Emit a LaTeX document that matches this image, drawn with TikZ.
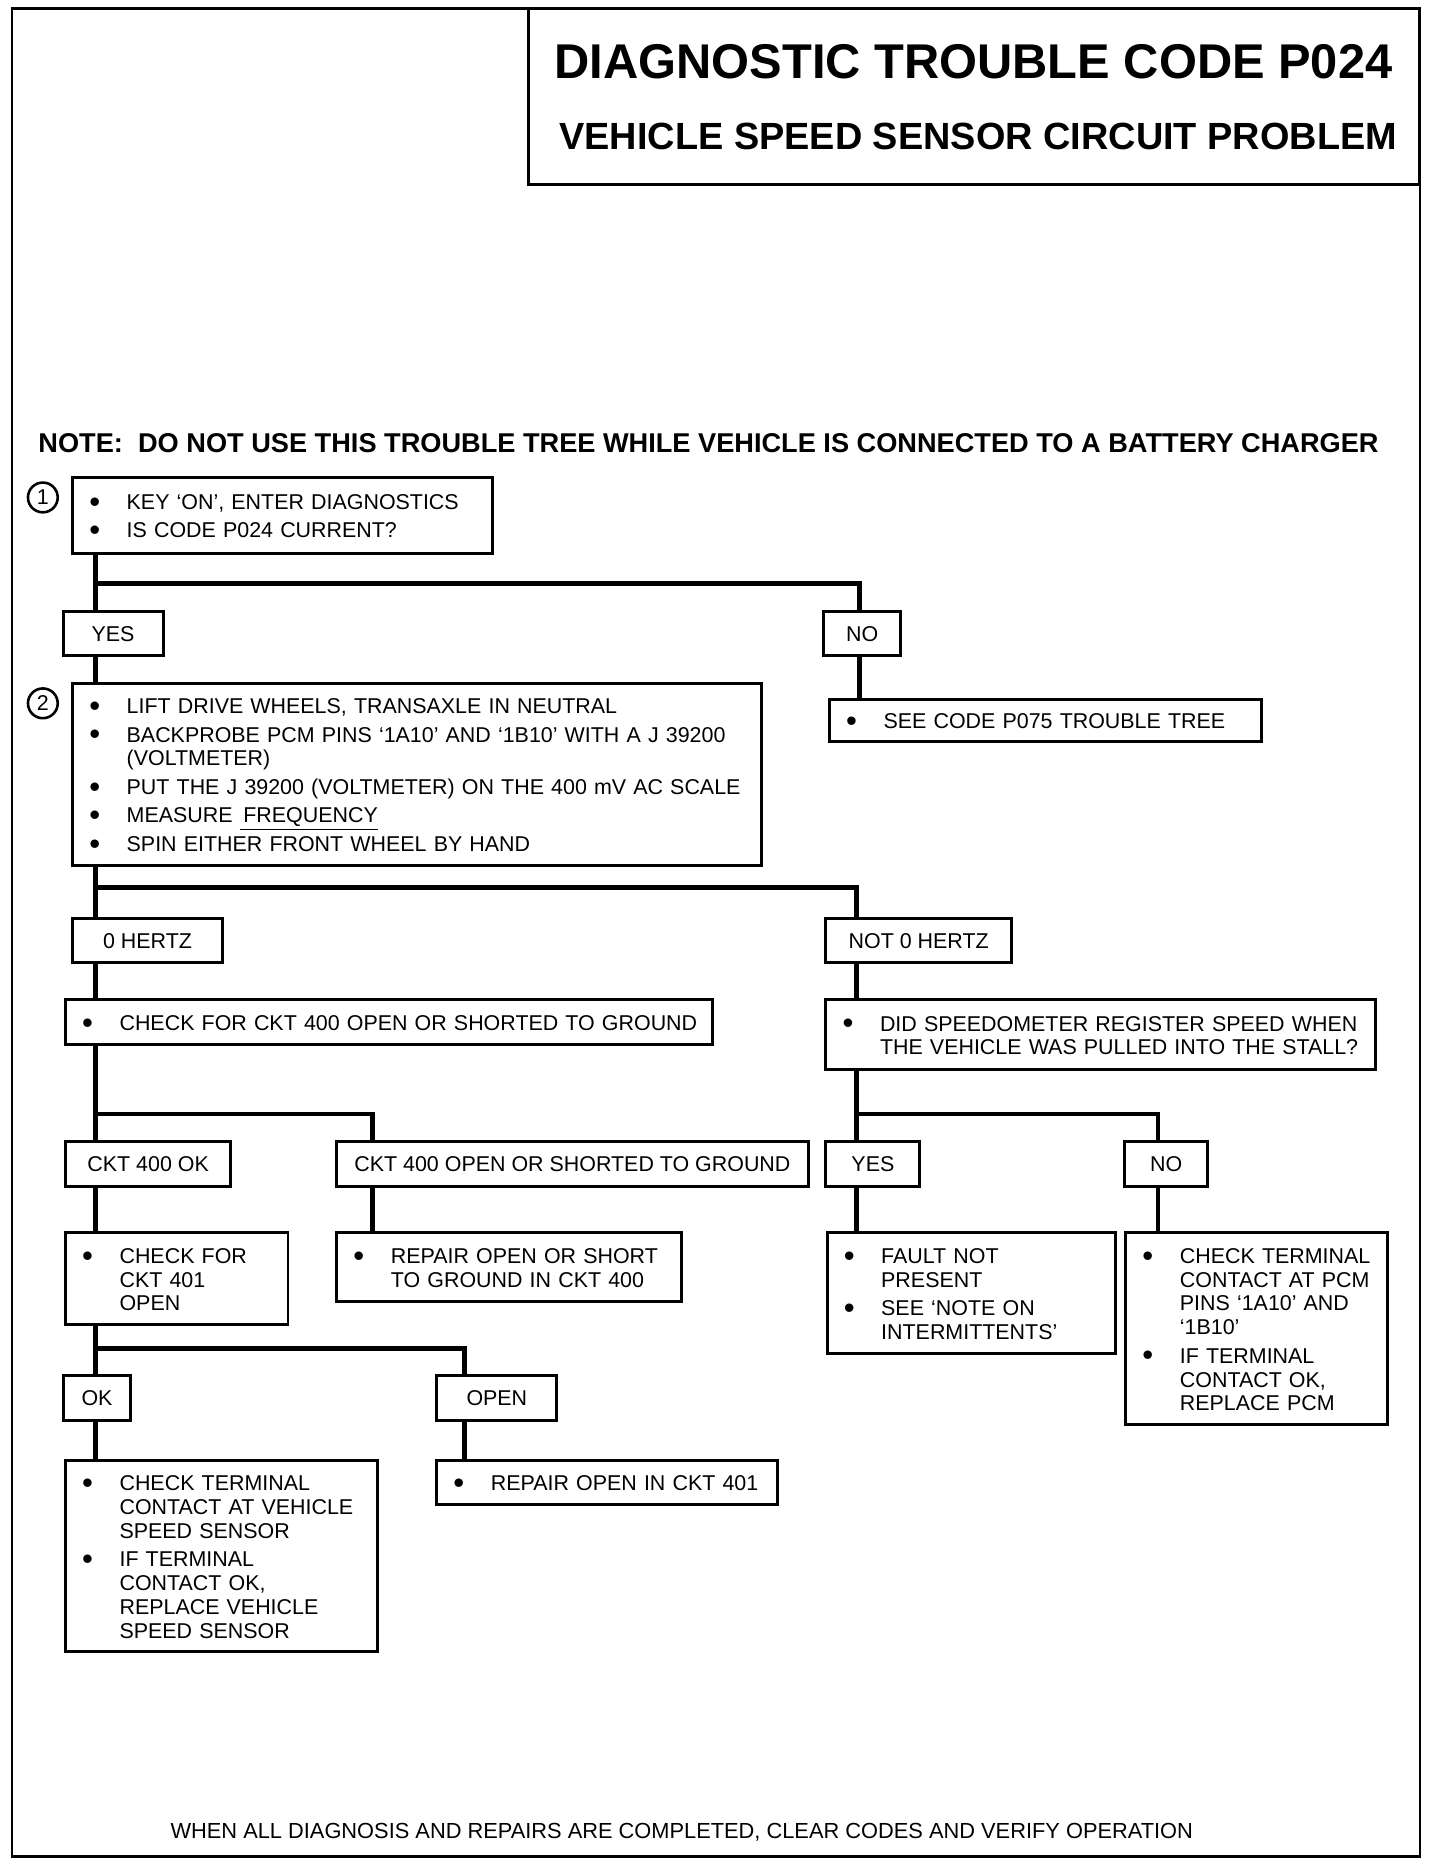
\documentclass[tikz,border=0pt]{standalone}
\usepackage{fontspec}
\setmainfont{Liberation Sans}
\usepackage{tikz}

\tikzset{
  wire/.style={line width=2.4pt},
  stepbox/.style={draw, line width=1.5pt, anchor=north west, outer sep=0pt,
                  inner xsep=8.4pt, inner ysep=0pt, align=left},
  answer/.style={draw, line width=1.5pt, anchor=north west, outer sep=0pt, inner sep=0pt},
  stepnum/.style={circle, draw, line width=1.3pt, minimum size=15pt, inner sep=0pt},
}

% bullet list inside a box: bullet column, then the text column
\newcommand{\bdot}{\raisebox{-1.4pt}{\scalebox{1.45}{\textbullet}}}
\newcommand{\bul}[1]{\raisebox{-1.8pt}[\height][\depth]{\begin{tabular}{@{}l@{\hspace{13.4pt}}l@{}}#1\end{tabular}}}

\begin{document}
\begin{tikzpicture}[x=0.6pt, y=-0.6pt, font=\fontsize{10.8}{12}\selectfont]

        \useasboundingbox (0,0) rectangle (1210,1568);

        % page frame and title block
        \draw[line width=1.2pt] (10,7) rectangle (1193,1560);
        \draw[line width=1.5pt] (444,7) rectangle (1193,155);
        \node (title) at (818,52) {\fontsize{24.6}{26}\selectfont\bfseries DIAGNOSTIC TROUBLE CODE P024};
        \node (subtitle) at (822,115) {\fontsize{19.1}{22}\selectfont\bfseries VEHICLE SPEED SENSOR CIRCUIT PROBLEM};
        \node[anchor=west, inner sep=0pt] (note) at (32,372) {\fontsize{13.7}{15}\selectfont\bfseries NOTE:\ \ DO NOT USE THIS TROUBLE TREE WHILE VEHICLE IS CONNECTED TO A BATTERY CHARGER};

        % step 1
        \node[stepnum] (n1) at (36,418) {1};
        \node[stepbox, minimum width=211.8pt, minimum height=38.4pt, text width=195pt] (q1) at (61,401)
            {\bul{\bdot & KEY `ON', ENTER DIAGNOSTICS\\[2.4pt] \bdot & IS CODE P024 CURRENT?}};
        \node[answer, minimum width=50.4pt, minimum height=22.2pt] (yes1) at (53,514) {YES};
        \node[answer, minimum width=39pt, minimum height=22.2pt] (no1) at (692,514) {NO};
        \node[stepbox, minimum width=217.8pt, minimum height=21pt, text width=201pt] (p075) at (697,588)
            {\bul{\bdot & SEE CODE P075 TROUBLE TREE}};

        % step 2
        \node[stepnum] (n2) at (36,591) {2};
        \node[stepbox, minimum width=347.4pt, minimum height=91.8pt, text width=330.6pt] (q2) at (61,574)
            {\bul{\bdot & LIFT DRIVE WHEELS, TRANSAXLE IN NEUTRAL\\[2.4pt]
                  \bdot & BACKPROBE PCM PINS `1A10' AND `1B10' WITH A J 39200\\
                        & (VOLTMETER)\\[2.4pt]
                  \bdot & PUT THE J 39200 (VOLTMETER) ON THE 400 mV AC SCALE\\[2.4pt]
                  \bdot & MEASURE \underline{\,FREQUENCY}\\[2.4pt]
                  \bdot & SPIN EITHER FRONT WHEEL BY HAND}};
        \node[answer, minimum width=75.6pt, minimum height=22.2pt] (hz0) at (61,772) {0 HERTZ};
        \node[answer, minimum width=93.6pt, minimum height=22.2pt] (hznot) at (694,772) {NOT 0 HERTZ};

        % 0 hertz side
        \node[stepbox, minimum width=326.4pt, minimum height=22.8pt, text width=309.6pt] (ckt400) at (55,840)
            {\bul{\bdot & CHECK FOR CKT 400 OPEN OR SHORTED TO GROUND}};
        \node[answer, minimum width=83.4pt, minimum height=22.8pt] (cktok) at (55,959) {CKT 400 OK};
        \node[answer, minimum width=237.6pt, minimum height=22.8pt] (cktopen) at (283,959) {CKT 400 OPEN OR SHORTED TO GROUND};
        \node[stepbox, minimum width=112.2pt, minimum height=46.2pt, text width=95.4pt] (ckt401) at (55,1036)
            {\bul{\bdot & CHECK FOR\\ & CKT 401\\ & OPEN}};
        \node[stepbox, minimum width=174pt, minimum height=34.8pt, text width=157.2pt] (rep400) at (283,1036)
            {\bul{\bdot & REPAIR OPEN OR SHORT\\ & TO GROUND IN CKT 400}};
        \node[answer, minimum width=34.2pt, minimum height=22.8pt] (ok2) at (53,1156) {OK};
        \node[answer, minimum width=60.6pt, minimum height=22.8pt] (open2) at (367,1156) {OPEN};
        \node[stepbox, minimum width=157.2pt, minimum height=96.6pt, text width=140.4pt] (vss) at (55,1227)
            {\bul{\bdot & CHECK TERMINAL\\ & CONTACT AT VEHICLE\\ & SPEED SENSOR\\[2.4pt]
                  \bdot & IF TERMINAL\\ & CONTACT OK,\\ & REPLACE VEHICLE\\ & SPEED SENSOR}};
        \node[stepbox, minimum width=171.6pt, minimum height=22.2pt, text width=154.8pt] (rep401) at (367,1227)
            {\bul{\bdot & REPAIR OPEN IN CKT 401}};

        % not 0 hertz side
        \node[stepbox, minimum width=277.2pt, minimum height=35.4pt, text width=260.4pt] (speedo) at (694,840)
            {\bul{\bdot & DID SPEEDOMETER REGISTER SPEED WHEN\\ & THE VEHICLE WAS PULLED INTO THE STALL?}};
        \node[answer, minimum width=47.4pt, minimum height=22.8pt] (yes3) at (694,959) {YES};
        \node[answer, minimum width=42pt, minimum height=22.8pt] (no3) at (945,959) {NO};
        \node[stepbox, minimum width=145.2pt, minimum height=60.6pt, text width=128.4pt] (fault) at (695,1036)
            {\bul{\bdot & FAULT NOT\\ & PRESENT\\[2.4pt] \bdot & SEE `NOTE ON\\ & INTERMITTENTS'}};
        \node[stepbox, minimum width=132pt, minimum height=96.6pt, text width=115.2pt] (pcm) at (946,1036)
            {\bul{\bdot & CHECK TERMINAL\\ & CONTACT AT PCM\\ & PINS `1A10' AND\\ & `1B10'\\[2.4pt]
                  \bdot & IF TERMINAL\\ & CONTACT OK,\\ & REPLACE PCM}};

        \node[anchor=west, inner sep=0pt] (footer) at (143,1540) {\fontsize{11}{12}\selectfont WHEN ALL DIAGNOSIS AND REPAIRS ARE COMPLETED, CLEAR CODES AND VERIFY OPERATION};

        % branch points
        \coordinate (j1) at (80,490);   \coordinate (j1r) at (722,490);
        \coordinate (j2) at (80,746);   \coordinate (j2r) at (720,746);
        \coordinate (j3) at (80,936);   \coordinate (j3r) at (313,936);
        \coordinate (j4) at (80,1133);  \coordinate (j4r) at (390,1133);
        \coordinate (j5) at (720,936);  \coordinate (j5r) at (973,936);

        % connectors
        \draw[wire] (q1.south -| j1) -- (j1 |- yes1.north);
        \draw[wire] (j1) -- (j1r) -- (j1r |- no1.north);
        \draw[wire] (yes1.south -| j1) -- (j1 |- q2.north);
        \draw[wire] (no1.south -| j1r) -- (j1r |- p075.north);

        \draw[wire] (q2.south -| j2) -- (j2 |- hz0.north);
        \draw[wire] (j2) -- (j2r) -- (j2r |- hznot.north);
        \draw[wire] (hz0.south -| j2) -- (j2 |- ckt400.north);
        \draw[wire] (hznot.south -| j2r) -- (j2r |- speedo.north);

        \draw[wire] (ckt400.south -| j3) -- (j3 |- cktok.north);
        \draw[wire] (j3) -- (j3r) -- (j3r |- cktopen.north);
        \draw[wire] (cktok.south -| j3) -- (j3 |- ckt401.north);
        \draw[wire] (cktopen.south -| j3r) -- (j3r |- rep400.north);

        \draw[wire] (ckt401.south -| j4) -- (j4 |- ok2.north);
        \draw[wire] (j4) -- (j4r) -- (j4r |- open2.north);
        \draw[wire] (ok2.south -| j4) -- (j4 |- vss.north);
        \draw[wire] (open2.south -| j4r) -- (j4r |- rep401.north);

        \draw[wire] (speedo.south -| j5) -- (j5 |- yes3.north);
        \draw[wire] (j5) -- (j5r) -- (j5r |- no3.north);
        \draw[wire] (yes3.south -| j5) -- (j5 |- fault.north);
        \draw[wire] (no3.south -| j5r) -- (j5r |- pcm.north);

    \end{tikzpicture}
\end{document}
